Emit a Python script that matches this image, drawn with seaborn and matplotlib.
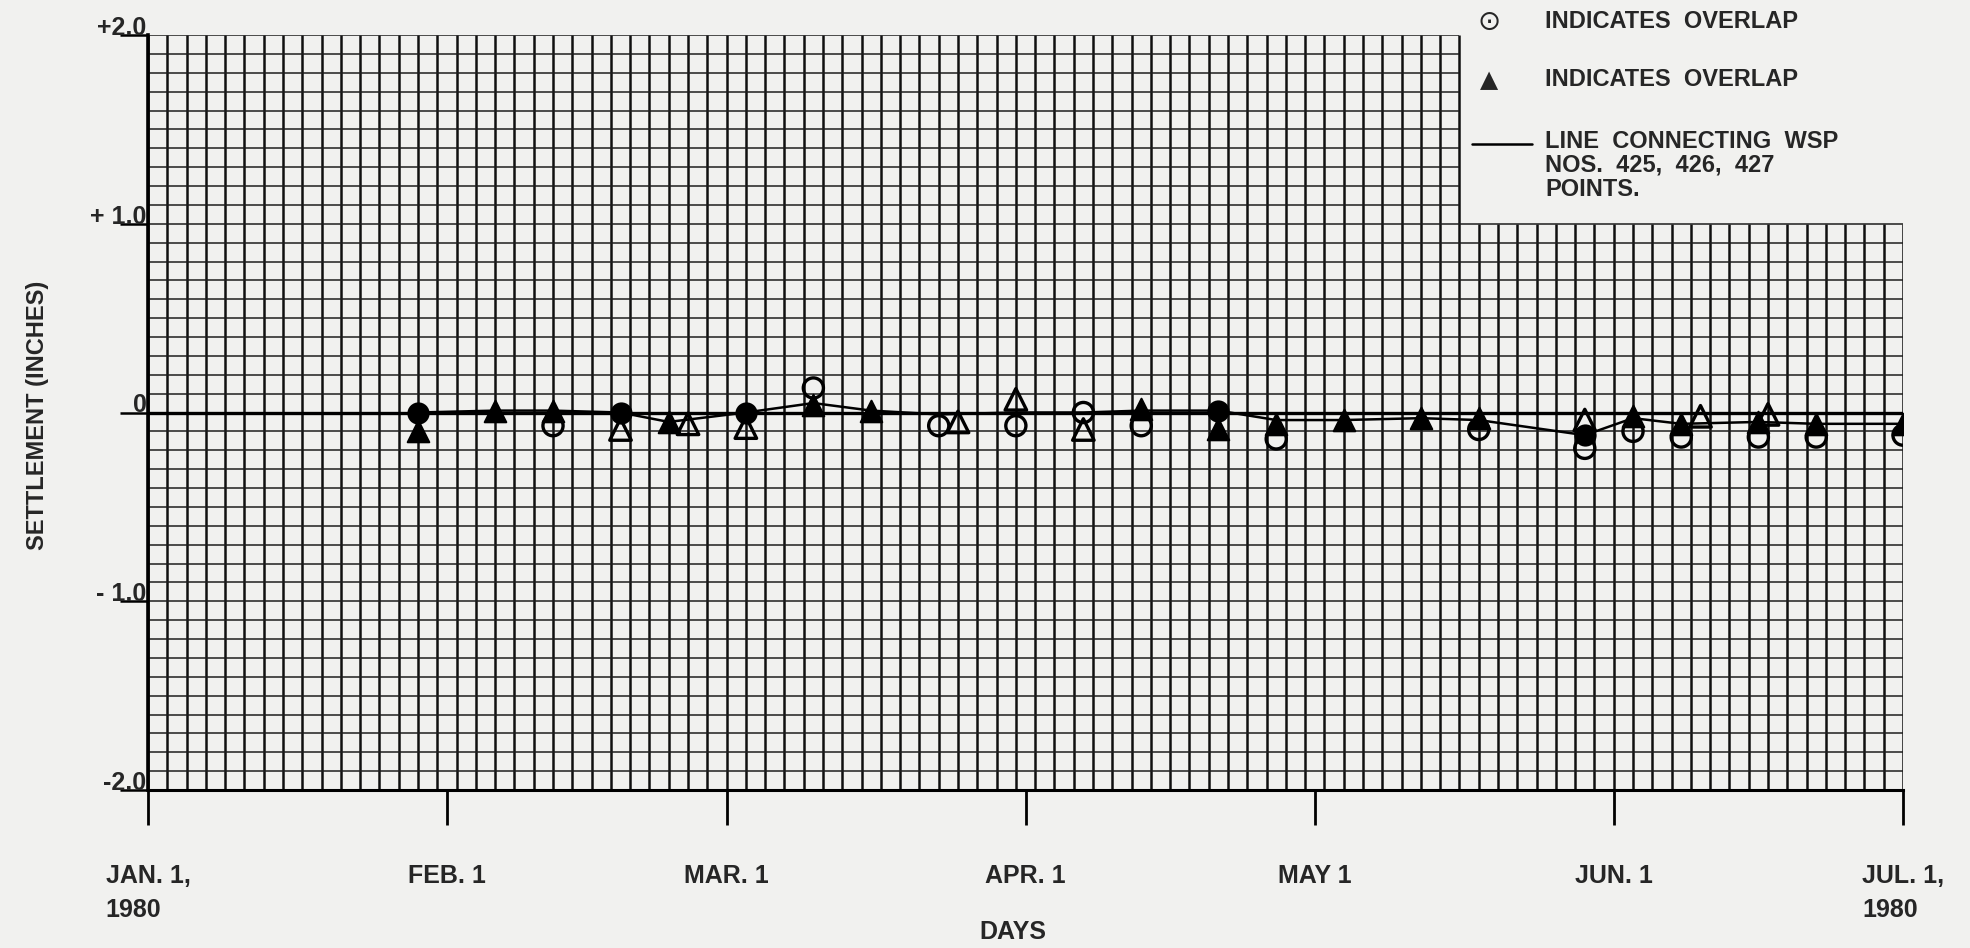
# settlement of WSP 425, 426, 427 points, Jan - Jul 1980 (graph paper style)
import numpy as np
import pandas as pd
import matplotlib
matplotlib.use('Agg')
import matplotlib.pyplot as plt
from matplotlib.lines import Line2D
import seaborn as sns

# circle points (WSP 425) - overlap = 1 means drawn filled
circle_dates = ['1980-01-29', '1980-02-12', '1980-02-19', '1980-03-03', '1980-03-10',
                '1980-03-23', '1980-03-31', '1980-04-07', '1980-04-13', '1980-04-21',
                '1980-04-27', '1980-05-18', '1980-05-29', '1980-05-29', '1980-06-03',
                '1980-06-08', '1980-06-16', '1980-06-22', '1980-07-01']
circle_vals = [0.00, -0.07, 0.00, 0.00, 0.13,
               -0.07, -0.07, 0.00, -0.07, 0.01,
               -0.14, -0.09, -0.19, -0.12, -0.10,
               -0.13, -0.13, -0.13, -0.12]
circle_overlap = [1, 0, 1, 1, 0,
                  0, 0, 0, 0, 1,
                  0, 0, 0, 1, 0,
                  0, 0, 0, 0]

# triangle points (WSP 426)
tri_dates = ['1980-01-29', '1980-02-06', '1980-02-12', '1980-02-19', '1980-02-24',
             '1980-02-26', '1980-03-03', '1980-03-10', '1980-03-16', '1980-03-25',
             '1980-03-31', '1980-04-07', '1980-04-13', '1980-04-21', '1980-04-27',
             '1980-05-04', '1980-05-12', '1980-05-18', '1980-05-29', '1980-06-03',
             '1980-06-08', '1980-06-10', '1980-06-16', '1980-06-17', '1980-06-22',
             '1980-07-01']
tri_vals = [-0.10, 0.01, 0.01, -0.09, -0.05,
            -0.06, -0.08, 0.04, 0.01, -0.05,
            0.07, -0.09, 0.02, -0.09, -0.06,
            -0.04, -0.03, -0.03, -0.04, -0.02,
            -0.06, -0.02, -0.05, -0.01, -0.06,
            -0.06]
tri_overlap = [1, 1, 1, 0, 1,
               0, 0, 1, 1, 0,
               0, 0, 1, 1, 1,
               1, 1, 1, 0, 1,
               1, 0, 1, 0, 1,
               1]

# connecting line
line_dates = ['1980-01-29', '1980-02-06', '1980-02-12', '1980-02-19', '1980-02-24',
              '1980-03-03', '1980-03-10', '1980-03-16', '1980-03-23', '1980-03-31',
              '1980-04-07', '1980-04-13', '1980-04-21', '1980-04-27', '1980-05-04',
              '1980-05-12', '1980-05-18', '1980-05-29', '1980-06-03', '1980-06-08',
              '1980-06-16', '1980-06-22', '1980-07-01']
line_vals = [0.00, 0.01, 0.01, 0.00, -0.05,
             0.00, 0.05, 0.01, -0.01, 0.00,
             0.00, 0.01, 0.01, -0.04, -0.04,
             -0.03, -0.04, -0.12, -0.03, -0.06,
             -0.05, -0.06, -0.06]

month_dates = ['1980-01-01', '1980-02-01', '1980-03-01', '1980-04-01',
               '1980-05-01', '1980-06-01', '1980-07-01']
month_labels = ['JAN. 1,\n1980', 'FEB. 1', 'MAR. 1', 'APR. 1', 'MAY 1', 'JUN. 1', 'JUL. 1,\n1980']
y_ticks = [2.0, 1.0, 0.0, -1.0, -2.0]
y_labels = ['+2.0', '+ 1.0', '0', '- 1.0', '-2.0']

start = pd.Timestamp('1980-01-01')


def to_day(dates):
    return (pd.to_datetime(dates) - start).days.values


circles = pd.DataFrame({'day': to_day(circle_dates), 'val': circle_vals, 'overlap': circle_overlap})
tris = pd.DataFrame({'day': to_day(tri_dates), 'val': tri_vals, 'overlap': tri_overlap})
line = pd.DataFrame({'day': to_day(line_dates), 'val': line_vals})
month_days = to_day(month_dates)

sns.set_style('white')
plt.rcParams['font.family'] = ['Liberation Sans', 'DejaVu Sans']

paper = '#f1f1ef'
fig = plt.figure(figsize=(19.7, 9.48), dpi=100, facecolor=paper)
ax = fig.add_axes([148 / 1970, 1 - 790 / 948, 1755 / 1970, 755 / 948])
ax.set_facecolor(paper)

x_end = month_days[-1]
cut_x = 136  # legend box cut out of the upper right corner of the sheet

# graph paper: vertical lines every 2 days, horizontal every 0.1 in
for gx in np.arange(0, x_end + 1, 2):
    top = 2.0 if gx <= cut_x else 1.0
    ax.vlines(gx, -2.0, top, color='#101010', lw=1.8, zorder=1)
for gy in np.round(np.arange(-2.0, 2.01, 0.1), 2):
    right = x_end if gy <= 1.0 else cut_x
    ax.hlines(gy, 0, right, color='#1e1e1e', lw=1.1, zorder=1)
ax.hlines(0, 0, x_end, color='black', lw=2.4, zorder=1.5)

# connecting line
sns.lineplot(data=line, x='day', y='val', color='black', lw=1.8, ax=ax, zorder=3)

# markers
op = circles[circles['overlap'] == 0]
fl = circles[circles['overlap'] == 1]
sns.scatterplot(data=op, x='day', y='val', marker='o', s=210, facecolor='none',
                edgecolor='black', linewidth=2.4, ax=ax, zorder=4)
sns.scatterplot(data=fl, x='day', y='val', marker='o', s=210, color='black',
                edgecolor='black', linewidth=1.5, ax=ax, zorder=5)
op = tris[tris['overlap'] == 0]
fl = tris[tris['overlap'] == 1]
sns.scatterplot(data=op, x='day', y='val', marker='^', s=240, facecolor='none',
                edgecolor='black', linewidth=2.4, ax=ax, zorder=4)
sns.scatterplot(data=fl, x='day', y='val', marker='^', s=240, color='black',
                edgecolor='black', linewidth=1.5, ax=ax, zorder=5)

ax.set_xlim(0, x_end)
ax.set_ylim(-2.0, 2.0)
ax.set_xlabel('')
ax.set_ylabel('')
for side in ['top', 'right']:
    ax.spines[side].set_visible(False)
ax.spines['left'].set_linewidth(2.6)
ax.spines['bottom'].set_linewidth(2.2)
ax.spines['left'].set_color('black')
ax.spines['bottom'].set_color('black')

# x ticks: long marks hanging below the axis
ax.set_xticks(month_days, month_labels)
ax.tick_params(axis='x', bottom=True, direction='out', length=25, width=2.0, color='black',
               pad=28, labelsize=18)
for lab in ax.get_xticklabels():
    lab.set_fontweight('bold')
    lab.set_linespacing(1.55)
    lab.set_multialignment('left')

# y ticks: the tick mark underlines the label
ax.set_yticks(y_ticks, y_labels)
ax.tick_params(axis='y', left=True, direction='out', length=20, width=1.8, color='black',
               pad=-19, labelsize=18)
for lab in ax.get_yticklabels():
    lab.set_va('baseline')
    lab.set_fontweight('bold')

fig.text(38 / 1970, 1 - 415 / 948, 'SETTLEMENT (INCHES)', rotation=90,
         ha='center', va='center', fontsize=17, fontweight='bold')
fig.text(1013 / 1970, 1 - 932 / 948, 'DAYS', ha='center', va='center',
         fontsize=18, fontweight='bold')

# legend in the cut out corner
fig.text(1489 / 1970, 1 - 22 / 948, '\u2299', ha='center', va='center', fontsize=20,
         family=['DejaVu Sans'])
fig.text(1545 / 1970, 1 - 22 / 948, 'INDICATES  OVERLAP', ha='left', va='center',
         fontsize=17, fontweight='bold')
fig.text(1489 / 1970, 1 - 80 / 948, '\u25b2', ha='center', va='center', fontsize=17,
         family=['DejaVu Sans'])
fig.text(1545 / 1970, 1 - 80 / 948, 'INDICATES  OVERLAP', ha='left', va='center',
         fontsize=17, fontweight='bold')
fig.add_artist(Line2D([1472 / 1970, 1532 / 1970], [1 - 144 / 948, 1 - 144 / 948],
                      color='black', lw=1.8, transform=fig.transFigure))
fig.text(1545 / 1970, 1 - 141 / 948, 'LINE  CONNECTING  WSP', ha='left', va='center',
         fontsize=17, fontweight='bold')
fig.text(1545 / 1970, 1 - 165 / 948, 'NOS.  425,  426,  427', ha='left', va='center',
         fontsize=17, fontweight='bold')
fig.text(1545 / 1970, 1 - 190 / 948, 'POINTS.', ha='left', va='center',
         fontsize=17, fontweight='bold')

fig.savefig('out.png', dpi=100, facecolor=paper)
